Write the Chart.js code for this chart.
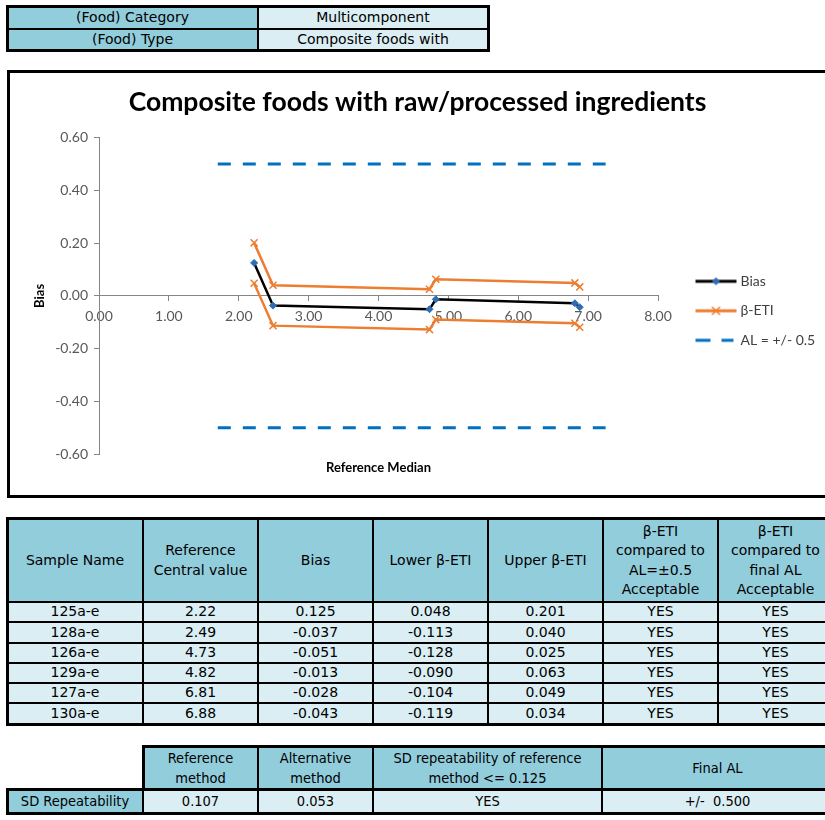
<!DOCTYPE html>
<html><head><meta charset="utf-8">
<script src="https://cdn.jsdelivr.net/npm/chart.js@4"></script>
<style>
html,body{margin:0;padding:0;background:#fff;width:825px;height:820px;overflow:hidden;position:relative;}
.cell{position:absolute;box-sizing:border-box;border:2px solid #000;display:flex;align-items:center;justify-content:center;text-align:center;white-space:nowrap;overflow:hidden;font-family:"DejaVu Sans",sans-serif;font-size:14px;line-height:19.5px;color:#000;}
.cond{font-family:"DejaVu Sans Condensed","DejaVu Sans",sans-serif;font-stretch:condensed;font-size:14.5px;line-height:20px;}
.frame{position:absolute;box-sizing:border-box;border:3px solid #000;pointer-events:none;}
#box{position:absolute;left:7px;top:70px;width:830px;height:428px;border:3px solid #000;box-sizing:border-box;background:#fff;}
#c{position:absolute;left:10px;top:73px;}
</style></head>
<body>
<div id="box"></div>
<canvas id="c" width="815" height="422"></canvas>
<script>
// ---- data ----
const infoLabels = ['(Food) Category', '(Food) Type'];
const infoValues = ['Multicomponent', 'Composite foods with'];
const sampleNames = ['125a-e', '128a-e', '126a-e', '129a-e', '127a-e', '130a-e'];
const refCentral = [2.22, 2.49, 4.73, 4.82, 6.81, 6.88];
const biasValues = [0.125, -0.037, -0.051, -0.013, -0.028, -0.043];
const lowerEti = [0.048, -0.113, -0.128, -0.090, -0.104, -0.119];
const upperEti = [0.201, 0.040, 0.025, 0.063, 0.049, 0.034];
const accAL = ['YES', 'YES', 'YES', 'YES', 'YES', 'YES'];
const accFinal = ['YES', 'YES', 'YES', 'YES', 'YES', 'YES'];
const alX = [1.70, 7.25];
const alUpper = [0.5, 0.5];
const alLower = [-0.5, -0.5];
const xTickValues = [0, 1, 2, 3, 4, 5, 6, 7, 8];
const yTickValues = [-0.6, -0.4, -0.2, 0, 0.2, 0.4, 0.6];
const legendTexts = ['Bias', 'β-ETI', 'AL = +/- 0.5'];
const mainHeaders = ['Sample Name', 'Reference<br>Central value', 'Bias', 'Lower β-ETI', 'Upper β-ETI',
  'β-ETI<br>compared to<br>AL=±0.5<br>Acceptable', 'β-ETI<br>compared to<br>final AL<br>Acceptable'];
const sdHeaders = ['Reference<br>method', 'Alternative<br>method', 'SD repeatability of reference<br>method &lt;= 0.125', 'Final AL'];
const sdRowLabel = 'SD Repeatability';
const sdValues = ['0.107', '0.053', 'YES', '+/-&nbsp; 0.500'];

const HEAD = '#92CDDC', LIGHT = '#DAEEF3';
function cell(x, y, w, h, bg, html, cls) {
  const d = document.createElement('div');
  d.className = 'cell ' + (cls || '');
  d.style.left = (x - 1) + 'px'; d.style.top = (y - 1) + 'px';
  d.style.width = (w + 2) + 'px'; d.style.height = (h + 2) + 'px';
  d.style.background = bg;
  d.innerHTML = html;
  document.body.appendChild(d);
}
function frame(x, y, w, h) {
  const d = document.createElement('div');
  d.className = 'frame';
  d.style.left = x + 'px'; d.style.top = y + 'px';
  d.style.width = w + 'px'; d.style.height = h + 'px';
  document.body.appendChild(d);
}
// top info table
const topX = [7, 258, 488], topY = [7, 29, 50];
infoLabels.forEach((t, i) => {
  cell(topX[0], topY[i], topX[1] - topX[0], topY[i + 1] - topY[i], HEAD, t);
  cell(topX[1], topY[i], topX[2] - topX[1], topY[i + 1] - topY[i], LIGHT, infoValues[i]);
});
frame(6, 5, 484, 47);

// main table
const mX = [7, 143, 258, 373, 488, 603, 718, 833];
const mY = [519, 602, 622, 643, 663, 683, 703, 724];
mainHeaders.forEach((t, j) => cell(mX[j], mY[0], mX[j + 1] - mX[j], mY[1] - mY[0], HEAD, t));
sampleNames.forEach((s, i) => {
  const vals = [s, refCentral[i].toFixed(2), biasValues[i].toFixed(3), lowerEti[i].toFixed(3),
    upperEti[i].toFixed(3), accAL[i], accFinal[i]];
  vals.forEach((v, j) => cell(mX[j], mY[i + 1], mX[j + 1] - mX[j], mY[i + 2] - mY[i + 1], LIGHT, v));
});
frame(6, 517, 830, 209);

// SD repeatability table
const sX = [7, 143, 258, 373, 602, 833];
const sY = [747, 789, 813];
sdHeaders.forEach((t, j) => cell(sX[j + 1], sY[0], sX[j + 2] - sX[j + 1], sY[1] - sY[0], HEAD, t, 'cond'));
cell(sX[0], sY[1], sX[1] - sX[0], sY[2] - sY[1], HEAD, sdRowLabel, 'cond');
sdValues.forEach((v, j) => cell(sX[j + 1], sY[1], sX[j + 2] - sX[j + 1], sY[2] - sY[1], LIGHT, v, 'cond'));
frame(142, 745, 694, 46);
frame(6, 788, 830, 27);

// ---- chart ----
const ORANGE = '#ED7D31', BLUE = '#0070C0', MARK = '#2E6DB4';
const pts = (xs, ys) => xs.map((x, i) => ({x: x, y: ys[i]}));

// legend sample images: line from image x 32 to 73 (drawn at item x+22 .. x+63)
function legendImg(kind) {
  const c = document.createElement('canvas');
  c.width = 80; c.height = 12;
  const g = c.getContext('2d');
  const y = 6, a = 32, b = 73, m = (a + b) / 2;
  if (kind === 'al') {
    g.strokeStyle = BLUE; g.lineWidth = 3;
    g.beginPath(); g.moveTo(a, y); g.lineTo(a + 15, y); g.moveTo(a + 26, y); g.lineTo(a + 38, y); g.stroke();
    return c;
  }
  g.strokeStyle = kind === 'bias' ? '#000' : ORANGE; g.lineWidth = 3;
  g.beginPath(); g.moveTo(a, y); g.lineTo(b, y); g.stroke();
  if (kind === 'bias') {
    g.fillStyle = MARK;
    g.beginPath(); g.moveTo(m, 2); g.lineTo(m + 4, 6); g.lineTo(m, 10); g.lineTo(m - 4, 6); g.closePath(); g.fill();
  } else {
    g.lineWidth = 1.5;
    g.beginPath(); g.moveTo(m - 4, 2); g.lineTo(m + 4, 10); g.moveTo(m - 4, 10); g.lineTo(m + 4, 2); g.stroke();
  }
  return c;
}

const LEG_FONT = 14, LEG_PAD = 15.5, LEG_BOX = 60, LEG_TARGET = 167;
const mctx = document.createElement('canvas').getContext('2d');
mctx.font = LEG_FONT + 'px Lato';
const maxText = Math.max(...legendTexts.map(t => mctx.measureText(t).width));
const legWidth = LEG_PAD + LEG_BOX + LEG_FONT / 2 + maxText + 10;
const padRight = Math.max(0, LEG_TARGET - legWidth);

Chart.defaults.font.family = 'Lato';
new Chart(document.getElementById('c'), {
  type: 'scatter',
  data: {
    datasets: [
      {label: legendTexts[0], data: pts(refCentral, biasValues), showLine: true, borderColor: '#000', borderWidth: 2.5,
        pointStyle: 'rectRot', pointRadius: 3.5, pointBackgroundColor: MARK, pointBorderColor: MARK, pointBorderWidth: 1},
      {label: legendTexts[1], data: pts(refCentral, upperEti), showLine: true, borderColor: ORANGE, borderWidth: 2.5,
        pointStyle: 'crossRot', pointRadius: 5, pointBorderColor: ORANGE, pointBackgroundColor: ORANGE, pointBorderWidth: 1.5},
      {label: legendTexts[1], data: pts(refCentral, lowerEti), showLine: true, borderColor: ORANGE, borderWidth: 2.5,
        pointStyle: 'crossRot', pointRadius: 5, pointBorderColor: ORANGE, pointBackgroundColor: ORANGE, pointBorderWidth: 1.5},
      {label: legendTexts[2], data: pts(alX, alUpper), showLine: true, borderColor: BLUE, borderWidth: 3,
        borderDash: [13, 12], pointRadius: 0},
      {label: legendTexts[2], data: pts(alX, alLower), showLine: true, borderColor: BLUE, borderWidth: 3,
        borderDash: [13, 12], pointRadius: 0}
    ]
  },
  options: {
    responsive: false,
    animation: false,
    devicePixelRatio: 1,
    layout: {padding: {left: 0, top: 0, bottom: 0, right: padRight}},
    scales: {
      x: {
        type: 'linear', position: {y: 0}, min: 0, max: 8,
        afterBuildTicks: a => { a.ticks = xTickValues.map(v => ({value: v})); },
        ticks: {callback: v => Number(v).toFixed(2), color: '#595959', font: {size: 14}, padding: 7, maxRotation: 0},
        grid: {display: true, drawOnChartArea: false, drawTicks: true, tickLength: 5, color: '#868686'},
        border: {color: '#868686', width: 1}
      },
      x2: {
        type: 'linear', position: 'bottom', min: 0, max: 8,
        ticks: {display: false},
        grid: {display: false, drawTicks: false},
        border: {display: false},
        title: {display: true, text: 'Reference Median', color: '#000', font: {size: 13, weight: 'bold'}, padding: {top: 0, bottom: 19}},
        afterFit: s => { s.height = 41; }
      },
      y: {
        type: 'linear', position: 'left', min: -0.6, max: 0.6,
        afterBuildTicks: a => { a.ticks = yTickValues.map(v => ({value: v})); },
        ticks: {callback: v => (Math.abs(v) < 1e-9 ? 0 : Number(v)).toFixed(2), color: '#595959', font: {size: 14}, padding: 6},
        grid: {display: true, drawOnChartArea: false, drawTicks: true, tickLength: 5, color: '#868686'},
        border: {color: '#868686', width: 1},
        title: {display: true, text: 'Bias', color: '#000', font: {size: 13, weight: 'bold'}, padding: {top: 22, bottom: 0}},
        afterFit: s => { s.width = 89; }
      }
    },
    plugins: {
      title: {display: true, text: 'Composite foods with raw/processed ingredients', color: '#000',
        font: {size: 26.5, weight: 'bold'}, padding: {top: 13.1, bottom: 19.8}},
      tooltip: {enabled: false},
      legend: {
        position: 'right', align: 'start', maxWidth: LEG_TARGET,
        title: {display: true, text: ' ', font: {size: 1}, padding: {top: 184.6, bottom: 0}},
        labels: {
          usePointStyle: true, pointStyleWidth: LEG_BOX, padding: LEG_PAD, color: '#404040', font: {size: LEG_FONT},
          generateLabels: chart => [
            {text: legendTexts[0], pointStyle: legendImg('bias'), datasetIndex: 0, fontColor: '#404040', hidden: false, lineWidth: 0, strokeStyle: 'rgba(0,0,0,0)', fillStyle: 'rgba(0,0,0,0)'},
            {text: legendTexts[1], pointStyle: legendImg('eti'), datasetIndex: 1, fontColor: '#404040', hidden: false, lineWidth: 0, strokeStyle: 'rgba(0,0,0,0)', fillStyle: 'rgba(0,0,0,0)'},
            {text: legendTexts[2], pointStyle: legendImg('al'), datasetIndex: 3, fontColor: '#404040', hidden: false, lineWidth: 0, strokeStyle: 'rgba(0,0,0,0)', fillStyle: 'rgba(0,0,0,0)'}
          ]
        }
      }
    }
  }
});
</script>
</body></html>
